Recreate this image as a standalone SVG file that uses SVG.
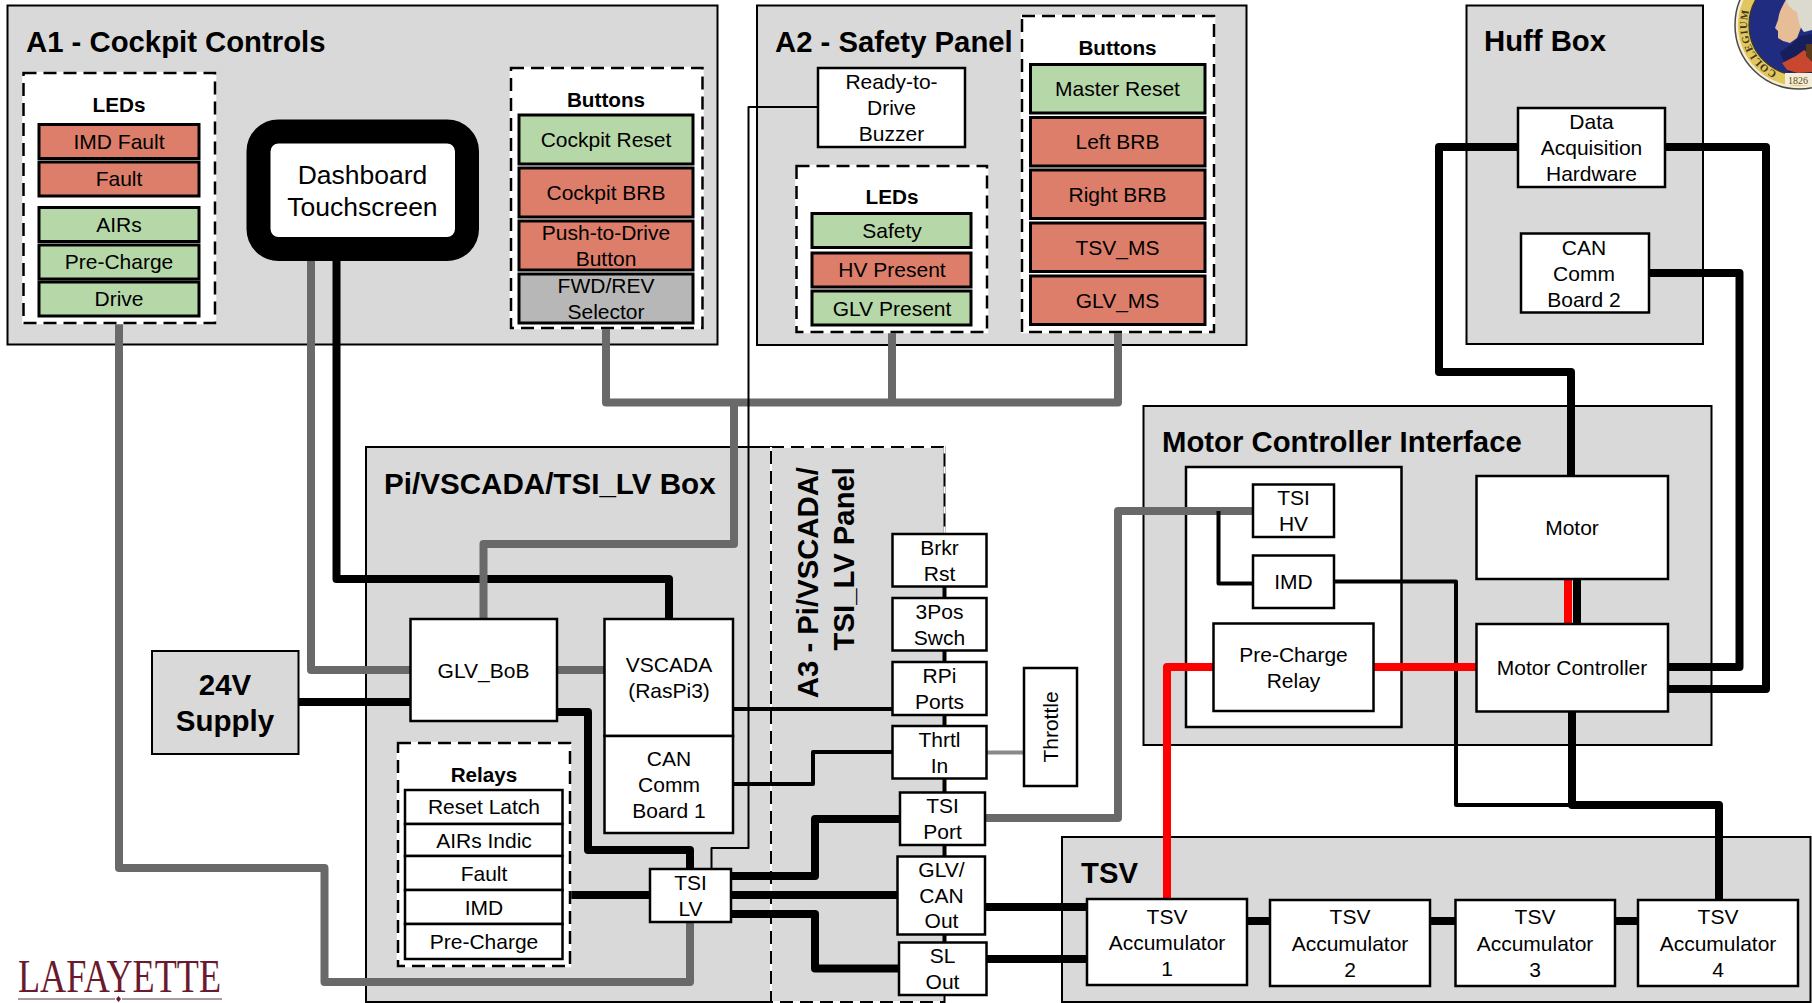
<svg xmlns="http://www.w3.org/2000/svg" width="1812" height="1003" viewBox="0 0 1812 1003">
<style>
text{font-family:"Liberation Sans",Arial,sans-serif;fill:#000;text-anchor:middle;font-size:21px}
.t{font-weight:bold;font-size:29.3px;text-anchor:start}
.h{font-weight:bold;font-size:20.7px}
.big{font-size:26.5px}
.sup{font-weight:bold;font-size:29.5px}
.box{fill:#d9d9d9;stroke:#000;stroke-width:2}
.w{fill:#fff;stroke:#000;stroke-width:2.5}
.g{fill:#b6d7a8;stroke:#000;stroke-width:3}
.r{fill:#dd7e6b;stroke:#000;stroke-width:3}
.s{fill:#b7b7b7;stroke:#000;stroke-width:3}
.dw{fill:#fff;stroke:#fff;stroke-width:2.5}
.d{fill:none;stroke:#000;stroke-width:2.5;stroke-dasharray:13 7}
.l{fill:none;stroke-linejoin:round}
.bk8{stroke:#000;stroke-width:8}
.bk4{stroke:#000;stroke-width:4}
.th{stroke:#000;stroke-width:2}
.gy8{stroke:#696969;stroke-width:8}
.gy4{stroke:#8a8a8a;stroke-width:4}
.rd8{stroke:#f00;stroke-width:8}
</style>
<defs><path id="seal-arc" d="M1777 72.100A52 52 0 0 1 1765.600 -14.800"/></defs>

<g id="a1-cockpit-controls"><rect class="box" x="7.5" y="5.5" width="710" height="339"/><text class="t" x="26" y="52">A1 - Cockpit Controls</text></g>
<g id="a2-safety-panel"><rect class="box" x="757" y="5.5" width="489.500" height="339.500"/><text class="t" x="775" y="52">A2 - Safety Panel</text></g>
<g id="huff-box"><rect class="box" x="1466.500" y="5.500" width="236.500" height="338.500"/><text class="t" x="1484" y="51">Huff Box</text></g>
<g id="motor-controller-interface"><rect class="box" x="1143.500" y="406" width="568" height="339"/><text class="t" x="1162" y="452">Motor Controller Interface</text><rect class="w" x="1186" y="467" width="215.500" height="260" stroke-width="2"/></g>
<g id="tsv"><rect class="box" x="1062" y="837" width="748.500" height="165"/><text class="t" x="1081" y="883">TSV</text></g>
<g id="pi-vscada-box"><rect class="box" x="366" y="447" width="405" height="555"/><text class="t" style="font-size:29.600px" x="384" y="494">Pi/VSCADA/TSI_LV Box</text></g>
<g id="a3-panel">
<rect x="771" y="447" width="173.500" height="555" fill="#d9d9d9" stroke="#000" stroke-width="2"/>
<rect x="771" y="447" width="173.500" height="555" fill="none" stroke="#fff" stroke-width="2" stroke-dasharray="0 13 7 0"/>
<text class="t" style="text-anchor:end" transform="translate(818 467) rotate(-90)">A3 - Pi/VSCADA/</text>
<text class="t" style="text-anchor:end" transform="translate(854 467) rotate(-90)">TSI_LV Panel</text>
</g>

<g id="connectors">
<path class="l gy8" d="M119 323V868H324.500V982H690V922"/>
<path class="l gy8" d="M311 261V670H410"/>
<path class="l bk8" d="M336.500 261V579H669V619"/>
<path class="l gy8" d="M606 328V402.500H1118V332"/>
<path class="l gy8" d="M892 332V402.500"/>
<path class="l gy8" d="M734 402.500V544H483.500V619"/>
<path class="l gy8" d="M557 670H605"/>
<path class="l bk8" d="M298 702H411"/>
<path class="l bk8" d="M557 712H588V850H690V869"/>
<path class="l th" d="M818 107H748.500V848H711.500V869"/>
<path class="l bk8" d="M570 895H650"/>
<path class="l bk8" d="M731 876H815V819H900"/>
<path class="l bk8" d="M731 895H898"/>
<path class="l bk8" d="M731 914H815V968.500H899"/>
<path class="l bk4" d="M733 709H892"/>
<path class="l bk4" d="M733 784H813V752H892"/>
<path class="l bk4" d="M944.500 586V598M944.500 650V662M944.500 715V726M944.500 778V793M944.500 845V857M944.500 934V943"/>
<path class="l gy4" d="M986 752.500H1024"/>
<path class="l gy8" d="M985 818H1118V511H1253"/>
<path class="l bk8" d="M985 907H1087"/>
<path class="l bk8" d="M986 959H1087"/>
<path class="l bk8" d="M1247 921H1270M1430 921H1455M1615 921H1638"/>
<path class="l bk4" d="M1218.500 511V583.500H1253"/>
<path class="l bk4" d="M1334 581.500H1456V805H1572"/>
<path class="l rd8" d="M1214 667H1167V898"/>
<path class="l rd8" d="M1374 667H1477"/>
<path class="l rd8" d="M1568 579V624"/>
<path class="l bk8" d="M1577 579V624"/>
<path class="l bk8" d="M1572 711V805H1719V900"/>
<path class="l bk8" d="M1518 147H1439V372H1571V476"/>
<path class="l bk8" d="M1665 147H1766V689H1668"/>
<path class="l bk8" d="M1649 273H1739.500V667H1668"/>
</g>

<g id="a1-leds">
<rect class="dw" x="23.500" y="73" width="191.500" height="250"/><rect class="d" x="23.500" y="73" width="191.500" height="250"/>
<text class="h" x="119" y="112">LEDs</text>
<rect class="r" x="39" y="124.500" width="160" height="34"/><text x="119" y="149">IMD Fault</text>
<rect class="r" x="39" y="162" width="160" height="34"/><text x="119" y="186">Fault</text>
<rect class="g" x="39" y="207.500" width="160" height="34"/><text x="119" y="232">AIRs</text>
<rect class="g" x="39" y="245" width="160" height="34"/><text x="119" y="269">Pre-Charge</text>
<rect class="g" x="39" y="282" width="160" height="34"/><text x="119" y="306">Drive</text>
</g>
<g id="dashboard-touchscreen">
<rect x="258.500" y="131.500" width="208.500" height="117.500" rx="20" fill="#fff" stroke="#000" stroke-width="24"/>
<text class="big" x="362.500" y="184">Dashboard</text><text class="big" x="362.500" y="216">Touchscreen</text>
</g>
<g id="a1-buttons">
<rect class="dw" x="511" y="68" width="191.500" height="260"/><rect class="d" x="511" y="68" width="191.500" height="260"/>
<text class="h" x="606" y="107">Buttons</text>
<rect class="g" x="519" y="115" width="174" height="49"/><text x="606" y="147">Cockpit Reset</text>
<rect class="r" x="519" y="168" width="174" height="49"/><text x="606" y="200">Cockpit BRB</text>
<rect class="r" x="519" y="221" width="174" height="49"/><text x="606" y="240">Push-to-Drive</text><text x="606" y="266">Button</text>
<rect class="s" x="519" y="274" width="174" height="49"/><text x="606" y="293">FWD/REV</text><text x="606" y="319">Selector</text>
</g>

<g id="ready-to-drive-buzzer">
<rect class="w" x="818" y="68" width="147" height="79"/><text x="891.500" y="89">Ready-to-</text><text x="891.500" y="115">Drive</text><text x="891.500" y="141">Buzzer</text>
</g>
<g id="a2-leds">
<rect class="dw" x="796.500" y="166" width="190.500" height="166"/><rect class="d" x="796.500" y="166" width="190.500" height="166"/>
<text class="h" x="892" y="204">LEDs</text>
<rect class="g" x="812" y="213.500" width="159" height="34"/><text x="892" y="238">Safety</text>
<rect class="r" x="812" y="253" width="159" height="34"/><text x="892" y="277">HV Present</text>
<rect class="g" x="812" y="291" width="159" height="34"/><text x="892" y="316">GLV Present</text>
</g>
<g id="a2-buttons">
<rect class="dw" x="1022" y="16" width="192" height="316"/><rect class="d" x="1022" y="16" width="192" height="316"/>
<text class="h" x="1117.500" y="55">Buttons</text>
<rect class="g" x="1030.500" y="64.500" width="174.500" height="48.500"/><text x="1117.500" y="96">Master Reset</text>
<rect class="r" x="1030.500" y="117.500" width="174.500" height="48.500"/><text x="1117.500" y="149">Left BRB</text>
<rect class="r" x="1030.500" y="170" width="174.500" height="48.500"/><text x="1117.500" y="202">Right BRB</text>
<rect class="r" x="1030.500" y="223" width="174.500" height="48.500"/><text x="1117.500" y="255">TSV_MS</text>
<rect class="r" x="1030.500" y="276" width="174.500" height="48.500"/><text x="1117.500" y="308">GLV_MS</text>
</g>

<g id="data-acquisition-hardware"><rect class="w" x="1518" y="108" width="147" height="79"/><text x="1591.500" y="129">Data</text><text x="1591.500" y="155">Acquisition</text><text x="1591.500" y="181">Hardware</text></g>
<g id="can-comm-board-2"><rect class="w" x="1521" y="233.500" width="128" height="79"/><text x="1584" y="255">CAN</text><text x="1584" y="281">Comm</text><text x="1584" y="307">Board 2</text></g>

<g id="tsi-hv"><rect class="w" x="1253" y="484.500" width="81" height="52.500"/><text x="1293.500" y="505">TSI</text><text x="1293.500" y="531">HV</text></g>
<g id="imd"><rect class="w" x="1253" y="555.500" width="81" height="52.500"/><text x="1293.500" y="589">IMD</text></g>
<g id="pre-charge-relay"><rect class="w" x="1213.500" y="623.500" width="160" height="87.500"/><text x="1293.500" y="662">Pre-Charge</text><text x="1293.500" y="688">Relay</text></g>
<g id="motor"><rect class="w" x="1476.500" y="476" width="191.500" height="103"/><text x="1572" y="535">Motor</text></g>
<g id="motor-controller"><rect class="w" x="1476.500" y="624" width="191.500" height="87.500"/><text x="1572" y="675">Motor Controller</text></g>

<g id="tsv-accumulator-1"><rect class="w" x="1087" y="899" width="160" height="86"/><text x="1167" y="924">TSV</text><text x="1167" y="950">Accumulator</text><text x="1167" y="976">1</text></g>
<g id="tsv-accumulator-2"><rect class="w" x="1270" y="900" width="160" height="86"/><text x="1350" y="924">TSV</text><text x="1350" y="951">Accumulator</text><text x="1350" y="977">2</text></g>
<g id="tsv-accumulator-3"><rect class="w" x="1455.500" y="900" width="159.500" height="86"/><text x="1535" y="924">TSV</text><text x="1535" y="951">Accumulator</text><text x="1535" y="977">3</text></g>
<g id="tsv-accumulator-4"><rect class="w" x="1638" y="900" width="160" height="86"/><text x="1718" y="924">TSV</text><text x="1718" y="951">Accumulator</text><text x="1718" y="977">4</text></g>

<g id="supply-24v"><rect class="box" x="152" y="651" width="146.500" height="103"/><text class="sup" x="225" y="695">24V</text><text class="sup" x="225" y="731">Supply</text></g>
<g id="glv-bob"><rect class="w" x="410.500" y="619" width="146.500" height="102"/><text x="483.500" y="678">GLV_BoB</text></g>
<g id="vscada"><rect class="w" x="604.500" y="619" width="128.500" height="117"/><text x="669" y="672">VSCADA</text><text x="669" y="698">(RasPi3)</text></g>
<g id="can-comm-board-1"><rect class="w" x="604.500" y="736" width="128.500" height="97"/><text x="669" y="766">CAN</text><text x="669" y="792">Comm</text><text x="669" y="818">Board 1</text></g>
<g id="relays">
<rect class="dw" x="398" y="743" width="172" height="223"/><rect class="d" x="398" y="743" width="172" height="223"/>
<text class="h" x="484" y="782">Relays</text>
<rect class="w" x="405" y="790" width="157.500" height="34"/><text x="484" y="814">Reset Latch</text>
<rect class="w" x="405" y="824" width="157.500" height="32"/><text x="484" y="848">AIRs Indic</text>
<rect class="w" x="405" y="856" width="157.500" height="34"/><text x="484" y="881">Fault</text>
<rect class="w" x="405" y="890" width="157.500" height="34"/><text x="484" y="915">IMD</text>
<rect class="w" x="405" y="924" width="157.500" height="35"/><text x="484" y="949">Pre-Charge</text>
</g>
<g id="tsi-lv"><rect class="w" x="650" y="869" width="81" height="53"/><text x="690.500" y="890">TSI</text><text x="690.500" y="916">LV</text></g>
<g id="brkr-rst"><rect class="w" x="892.500" y="534" width="94" height="52.500"/><text x="939.500" y="555">Brkr</text><text x="939.500" y="581">Rst</text></g>
<g id="3pos-swch"><rect class="w" x="892.500" y="598" width="94" height="52.500"/><text x="939.500" y="619">3Pos</text><text x="939.500" y="645">Swch</text></g>
<g id="rpi-ports"><rect class="w" x="892.500" y="662" width="94" height="53"/><text x="939.500" y="683">RPi</text><text x="939.500" y="709">Ports</text></g>
<g id="thrtl-in"><rect class="w" x="892.500" y="726" width="94" height="52.500"/><text x="939.500" y="747">Thrtl</text><text x="939.500" y="773">In</text></g>
<g id="tsi-port"><rect class="w" x="900" y="792.500" width="85" height="52.500"/><text x="942.500" y="813">TSI</text><text x="942.500" y="839">Port</text></g>
<g id="glv-can-out"><rect class="w" x="897.500" y="856.500" width="87.500" height="78"/><text x="941.500" y="877">GLV/</text><text x="941.500" y="903">CAN</text><text x="941.500" y="928">Out</text></g>
<g id="sl-out"><rect class="w" x="899" y="942.500" width="87.500" height="52.500"/><text x="942.500" y="963">SL</text><text x="942.500" y="989">Out</text></g>
<g id="throttle"><rect class="w" x="1024" y="668" width="53" height="118"/><text transform="translate(1057.500 727) rotate(-90)">Throttle</text></g>

<g id="lafayette-wordmark">
<text x="18" y="992" textLength="203" lengthAdjust="spacingAndGlyphs" style="font-family:'Liberation Serif','Times New Roman',serif;font-size:46px;fill:#6b1a2e;text-anchor:start">LAFAYETTE</text>
<path d="M18 999H115M122 999H222" stroke="#8f7a7e" stroke-width="1.500"/>
<path d="M118.500 996L121 999 118.500 1002 116 999Z" fill="#6b1a2e"/>
</g>
<g id="college-seal">
<circle cx="1799" cy="25" r="64" fill="#f4eed8" stroke="#4a4a42" stroke-width="1.500"/>
<circle cx="1799" cy="25" r="61" fill="#e2c65e"/>
<circle cx="1799" cy="25" r="50" fill="#1f2c80" stroke="#3a3520" stroke-width="1.200"/>
<text style="font-family:'Liberation Serif',serif;font-size:10.500px;font-weight:bold;fill:#3a3520;text-anchor:start;letter-spacing:.8px"><textPath href="#seal-arc">COLLEGIUM</textPath></text>
<rect x="1785" y="73" width="27" height="12" fill="#f4eed8"/>
<text x="1798" y="84" style="font-family:'Liberation Serif',serif;font-size:10px;fill:#5a4a1a">1826</text>
<path d="M1787 -2C1781 8 1779 13 1778 20L1775 28 1778 31 1778 38 1783 41 1790 43 1797 38 1802 25 1800 -2Z" fill="#e7bd98"/>
<path d="M1785 -2C1788 6 1792 10 1797 12 1798 20 1800 28 1804 32L1812 30V-2Z" fill="#dcdacf"/>
<path d="M1780 52L1792 44 1800 36 1812 34V73L1788 72Z" fill="#161e5c"/>
<path d="M1782 63L1796 56 1804 50 1812 56V72L1798 73 1787 70Z" fill="#c9472f"/>
<path d="M1806 44H1812V62L1806 56Z" fill="#5b3a1c"/>
</g>
</svg>
